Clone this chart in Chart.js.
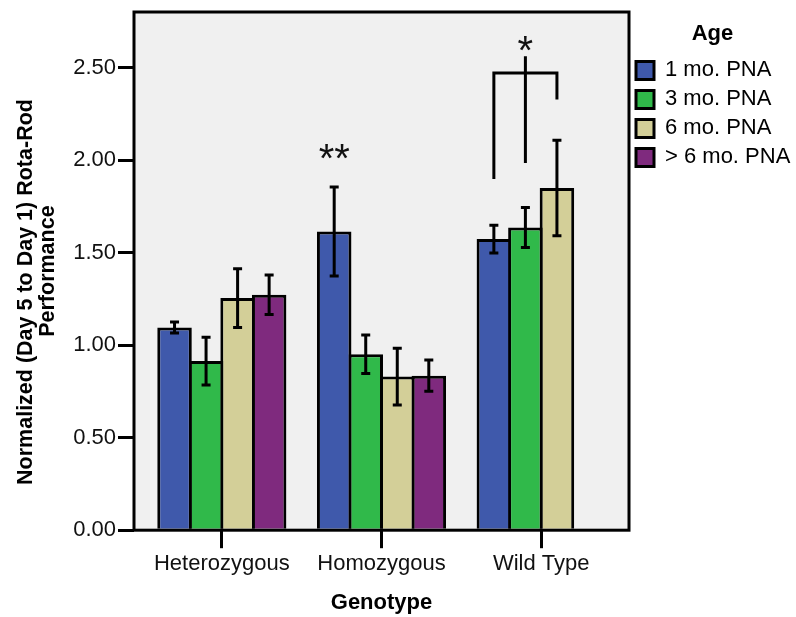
<!DOCTYPE html>
<html><head><meta charset="utf-8">
<script src="https://cdn.jsdelivr.net/npm/chart.js@4.4.1/dist/chart.umd.min.js"></script>
<style>html,body{margin:0;padding:0;background:#fff;} canvas{display:block;}</style>
</head><body>
<canvas id="c" width="796" height="617"></canvas>
<script>
// ---- data ----
const categories = ['Heterozygous', 'Homozygous', 'Wild Type'];
const seriesNames = ['1 mo. PNA', '3 mo. PNA', '6 mo. PNA', '> 6 mo. PNA'];
const mo1 = [1.095, 1.614, 1.573];
const mo3 = [0.914, 0.951, 1.636];
const mo6 = [1.254, 0.830, 1.849];
const mo6plus = [1.272, 0.835, null];
const err1 = [0.030, 0.240, 0.075];
const err3 = [0.129, 0.104, 0.108];
const err6 = [0.159, 0.153, 0.258];
const err6plus = [0.107, 0.084, null];
const yTicks = [0, 0.5, 1.0, 1.5, 2.0, 2.5];
const yMax = 2.8;
// significance marks: text, category index, series index, value
const sigText = ['**', '*'];
const sigCategory = [1, 2];
const sigSeries = [0, 1];
const sigValue = [2.056, 2.642];
// bracket over Wild Type: [series index, low value, high value]
const bracketSeries = [0, 1, 2];
const bracketLow = [1.898, 1.984, 2.327];
const bracketHigh = [2.471, 2.561, 2.471];
const bracketBar = 2.471;

const colors = ['#3f59ab', '#30b94a', '#d3cf98', '#7f2a7e'];
const FONT = '"Liberation Sans", Arial, Helvetica, sans-serif';

const values = [mo1, mo3, mo6, mo6plus];
const errors = [err1, err3, err6, err6plus];

const bgPlugin = {
  id: 'plotBg',
  beforeDraw(chart) {
    const {ctx, chartArea} = chart;
    const l = chart.scales.y.right, r = chart.scales.yR.right;
    ctx.save();
    ctx.fillStyle = '#f0f0f0';
    ctx.fillRect(l, chartArea.top, r - l, chartArea.bottom - chartArea.top);
    ctx.restore();
  }
};

const overlayPlugin = {
  id: 'overlay',
  afterDatasetsDraw(chart) {
    const {ctx, chartArea} = chart;
    const y = chart.scales.y;
    ctx.save();
    ctx.strokeStyle = '#000';
    ctx.lineWidth = 3;
    // error bars
    chart.data.datasets.forEach((ds, di) => {
      const meta = chart.getDatasetMeta(di);
      meta.data.forEach((bar, i) => {
        const v = ds.data[i], e = ds.errors[i];
        if (v == null || e == null) return;
        const x = bar.x;
        const yt = y.getPixelForValue(v + e), yb = y.getPixelForValue(v - e);
        ctx.beginPath();
        ctx.moveTo(x, yt); ctx.lineTo(x, yb);
        ctx.moveTo(x - 4.5, yt); ctx.lineTo(x + 4.5, yt);
        ctx.moveTo(x - 4.5, yb); ctx.lineTo(x + 4.5, yb);
        ctx.stroke();
      });
    });
    // frame
    const l = chart.scales.y.right, r = chart.scales.yR.right;
    ctx.strokeRect(l, chartArea.top, r - l, chartArea.bottom - chartArea.top);
    // bracket
    ctx.lineCap = 'butt';
    const bx = bracketSeries.map(s => chart.getDatasetMeta(s).data[2].x);
    ctx.beginPath();
    bracketSeries.forEach((s, k) => {
      ctx.moveTo(bx[k], y.getPixelForValue(bracketLow[k]));
      ctx.lineTo(bx[k], y.getPixelForValue(bracketHigh[k]));
    });
    const yb = y.getPixelForValue(bracketBar);
    ctx.moveTo(bx[0] - 1.5, yb); ctx.lineTo(bx[2] + 1.5, yb);
    ctx.stroke();
    // stars
    const fs = 40;
    ctx.font = fs + 'px ' + FONT;
    ctx.fillStyle = '#111';
    ctx.textAlign = 'center';
    ctx.textBaseline = 'alphabetic';
    sigText.forEach((t, k) => {
      const x = chart.getDatasetMeta(sigSeries[k]).data[sigCategory[k]].x;
      const py = y.getPixelForValue(sigValue[k]);
      ctx.fillText(t, x, py + 0.57 * fs);
    });
    ctx.restore();
  }
};

new Chart(document.getElementById('c'), {
  type: 'bar',
  data: {
    labels: categories,
    datasets: seriesNames.map((n, i) => ({
      label: n,
      data: values[i],
      errors: errors[i],
      backgroundColor: colors[i],
      borderColor: '#000',
      borderWidth: 3,
      yAxisID: 'y',
      categoryPercentage: 0.79,
      barPercentage: 1.095
    }))
  },
  options: {
    responsive: false,
    animation: false,
    devicePixelRatio: 1,
    layout: { padding: { top: 12, left: 15, right: 0, bottom: 0 } },
    plugins: {
      tooltip: { enabled: false },
      legend: {
        position: 'right',
        align: 'start',
        maxWidth: 167,
        title: {
          display: true, text: 'Age', color: '#000',
          font: { family: FONT, size: 22, weight: 'bold' },
          padding: { top: 11, bottom: 3 }
        },
        labels: {
          color: '#000', boxWidth: 18, boxHeight: 18, padding: 7,
          font: { family: FONT, size: 22 }
        }
      }
    },
    scales: {
      x: {
        grid: { display: true, drawOnChartArea: false, drawTicks: true, tickLength: 18, lineWidth: 3, color: '#000', offset: false },
        border: { display: false },
        ticks: { color: '#111', padding: 3, font: { family: FONT, size: 22 } },
        title: { display: true, text: 'Genotype', color: '#000', font: { family: FONT, size: 22, weight: 'bold' }, padding: { top: 9, bottom: 1 } }
      },
      y: {
        position: 'left',
        weight: 10,
        min: 0, max: yMax,
        afterBuildTicks: s => { s.ticks = yTicks.map(v => ({ value: v })); },
        afterFit: s => { s.width = 119; },
        grid: { display: true, drawOnChartArea: false, drawTicks: true, tickLength: 16, lineWidth: 3, color: '#000' },
        border: { display: false },
        ticks: { color: '#111', padding: 2, font: { family: FONT, size: 22, lineHeight: 0.8 }, callback: v => Number(v).toFixed(2) },
        title: { display: true, text: ['Normalized (Day 5 to Day 1) Rota-Rod       ', 'Performance'], color: '#000', font: { family: FONT, size: 21.5, weight: 'bold', lineHeight: 1.02 }, padding: { top: 0, bottom: 14 } }
      },
      yPad: {
        position: 'left', weight: 0, display: true,
        grid: { display: false }, border: { display: false }, ticks: { display: false },
        afterFit: s => { s.width = 8; }
      },
      yR: {
        position: 'right', weight: 0, display: true,
        grid: { display: false }, border: { display: false }, ticks: { display: false },
        afterFit: s => { s.width = 8; }
      }
    }
  },
  plugins: [bgPlugin, overlayPlugin]
});
</script>
</body></html>
